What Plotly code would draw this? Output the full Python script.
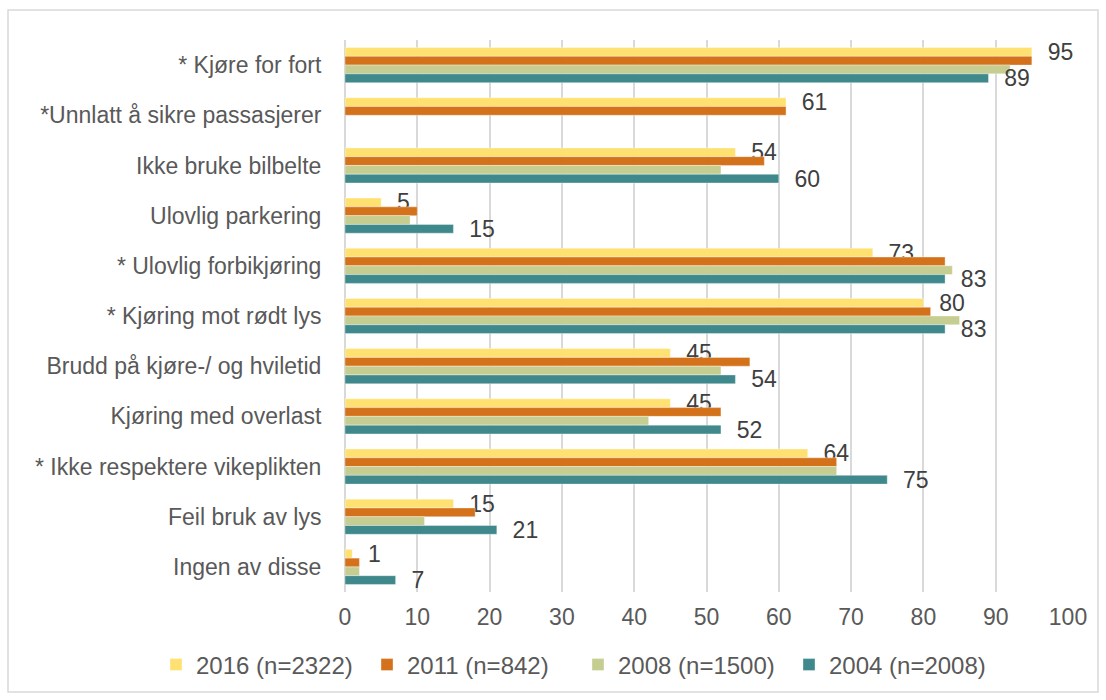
import plotly.graph_objects as go

# Survey categories, top to bottom
categories = [
    "* Kjøre for fort",
    "*Unnlatt å sikre passasjerer",
    "Ikke bruke bilbelte",
    "Ulovlig parkering",
    "* Ulovlig forbikjøring",
    "* Kjøring mot rødt lys",
    "Brudd på kjøre-/ og hviletid",
    "Kjøring med overlast",
    "* Ikke respektere vikeplikten",
    "Feil bruk av lys",
    "Ingen av disse",
]

# Share (%) per survey year
values_2016 = [95, 61, 54, 5, 73, 80, 45, 45, 64, 15, 1]
values_2011 = [95, 61, 58, 10, 83, 81, 56, 52, 68, 18, 2]
values_2008 = [92, None, 52, 9, 84, 85, 52, 42, 68, 11, 2]
values_2004 = [89, None, 60, 15, 83, 83, 54, 52, 75, 21, 7]

series_names = ["2016 (n=2322)", "2011 (n=842)", "2008 (n=1500)", "2004 (n=2008)"]
series_values = [values_2016, values_2011, values_2008, values_2004]
series_colors = ["#FFE171", "#D4721B", "#C6CD90", "#3F898C"]
labelled = [True, False, False, True]

FONT = "Liberation Sans, Arial, sans-serif"
TEXT_COLOR = "#595959"
W, H = 1106, 700
M_L, M_R, M_T, M_B = 345, 38, 40, 108
pw = W - M_L - M_R
ph = H - M_T - M_B

fig = go.Figure()
for name, vals, color, show_lbl in zip(series_names, series_values, series_colors, labelled):
    text = [("\u00a0\u00a0" + str(v)) if (show_lbl and v is not None) else "" for v in vals]
    fig.add_trace(go.Bar(
        name=name,
        y=categories,
        x=vals,
        orientation="h",
        marker=dict(color=color, line=dict(color="rgba(255,255,255,0.6)", width=0.6)),
        text=text,
        textposition="outside",
        constraintext="none",
        cliponaxis=False,
        textfont=dict(family=FONT, size=23, color="#404040"),
        hoverinfo="x+name",
    ))

# Outer light frame around the whole chart
fig.add_shape(
    type="rect", xref="paper", yref="paper",
    x0=(8 - M_L) / pw, x1=(W - 8 - M_L) / pw,
    y0=1 - (H - 8 - M_T) / ph, y1=1 - (10 - M_T) / ph,
    line=dict(color="#D9D9D9", width=1.5), fillcolor="rgba(0,0,0,0)", layer="below",
)

fig.update_layout(
    width=W, height=H,
    margin=dict(l=M_L, r=M_R, t=M_T, b=M_B, pad=0),
    barmode="group",
    bargap=0.3,
    bargroupgap=0,
    plot_bgcolor="white",
    paper_bgcolor="white",
    font=dict(family=FONT, size=23, color=TEXT_COLOR),
    showlegend=True,
    legend=dict(
        orientation="h",
        xref="paper", yref="paper",
        x=(156 - M_L) / pw, xanchor="left",
        y=1 - (665 - M_T) / ph, yanchor="middle",
        font=dict(family=FONT, size=24, color=TEXT_COLOR),
        entrywidth=166,
        entrywidthmode="pixels",
        itemclick=False,
        traceorder="normal",
        bgcolor="rgba(0,0,0,0)",
    ),
    xaxis=dict(
        range=[0, 100],
        dtick=10,
        showgrid=True,
        gridcolor="#D9D9D9",
        gridwidth=1.5,
        zeroline=True,
        zerolinecolor="#D9D9D9",
        zerolinewidth=1.5,
        showline=False,
        ticks="outside",
        ticklen=4,
        tickcolor="rgba(0,0,0,0)",
        tickfont=dict(family=FONT, size=23, color=TEXT_COLOR),
        fixedrange=True,
    ),
    yaxis=dict(
        type="category",
        autorange="reversed",
        showgrid=False,
        showline=False,
        ticks="outside",
        ticklen=18,
        tickcolor="rgba(0,0,0,0)",
        tickfont=dict(family=FONT, size=23, color=TEXT_COLOR),
        fixedrange=True,
    ),
)

fig.write_html("out.html", config={"displayModeBar": False})
